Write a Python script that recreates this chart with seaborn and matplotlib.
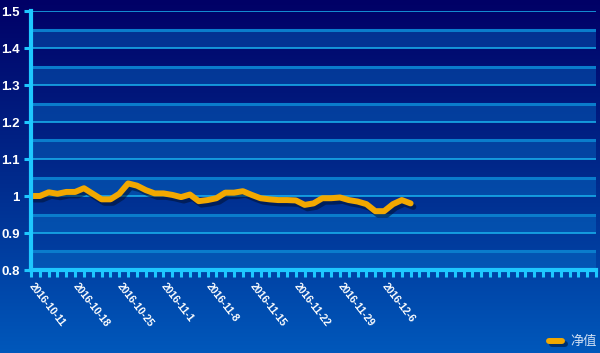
import numpy as np
import pandas as pd
import matplotlib
matplotlib.use("Agg")
import matplotlib.pyplot as plt
import matplotlib.patheffects as pe
from matplotlib.colors import LinearSegmentedColormap
from matplotlib.lines import Line2D
import seaborn as sns

# ---- data ----
dates = [d.strftime("%Y-%m-%d") for d in pd.bdate_range("2016-10-11", "2016-12-09")]
nav = [1.000, 1.000, 1.010, 1.006, 1.011, 1.011, 1.021, 1.006, 0.991, 0.991,
       1.006, 1.034, 1.028, 1.016, 1.007, 1.007, 1.003, 0.997, 1.004, 0.986,
       0.989, 0.994, 1.009, 1.009, 1.013, 1.003, 0.994, 0.991, 0.989, 0.989,
       0.988, 0.976, 0.980, 0.994, 0.994, 0.996, 0.989, 0.985, 0.978, 0.959,
       0.959, 0.978, 0.989, 0.980]
tick_labels = ["2016-10-11", "2016-10-18", "2016-10-25", "2016-11-1", "2016-11-8",
               "2016-11-15", "2016-11-22", "2016-11-29", "2016-12-6"]
tick_dates = ["2016-10-11", "2016-10-18", "2016-10-25", "2016-11-01", "2016-11-08",
              "2016-11-15", "2016-11-22", "2016-11-29", "2016-12-06"]
y_ticks = [0.8, 0.9, 1.0, 1.1, 1.2, 1.3, 1.4, 1.5]
y_labels = ["0.8", "0.9", "1", "1.1", "1.2", "1.3", "1.4", "1.5"]
series_name = "净值"

df = pd.DataFrame({"idx": range(len(nav)), "date": dates, "nav": nav})

sns.set_theme(style="white")
plt.rcParams["font.family"] = ["Liberation Sans", "DejaVu Sans"]

fig = plt.figure(figsize=(6.0, 3.53), dpi=100)

# background gradient
bg = fig.add_axes([0, 0, 1, 1], zorder=0)
cmap = LinearSegmentedColormap.from_list("bg", ["#000066", "#002a8c", "#0058bb"])
grad = np.linspace(0, 1, 256).reshape(-1, 1)
bg.imshow(grad, aspect="auto", cmap=cmap, extent=[0, 1, 0, 1], origin="upper")
bg.set_axis_off()

ax = fig.add_axes([31 / 600, 1 - 270 / 353, (596 - 31) / 600, (270 - 11) / 353], zorder=1)
ax.patch.set_alpha(0)

n_cat = 65
ax.set_xlim(0, n_cat - 1)
ax.set_ylim(0.8, 1.5)

# bands and grid
for k in np.arange(0.8, 1.45, 0.1):
    ax.axhspan(k, k + 0.05, color="#0a78d0", alpha=0.38, lw=0, zorder=0.5)
    ax.axhline(k + 0.05, color="#0a7ccc", lw=2.2, zorder=0.6)
for y in y_ticks[1:]:
    ax.axhline(y, color="#1ab4f0", lw=1.1, zorder=0.7)

sns.lineplot(data=df, x="idx", y="nav", ax=ax, color="#f2a800", lw=4.3, zorder=3,
             path_effects=[pe.SimpleLineShadow(offset=(2, -2.5), shadow_color="#001030", alpha=0.55),
                           pe.Normal()])

for s in ["top", "right"]:
    ax.spines[s].set_visible(False)
for s in ["left", "bottom"]:
    ax.spines[s].set_visible(True)
    ax.spines[s].set_color("#1ec8ff")
    ax.spines[s].set_linewidth(3)
    ax.spines[s].set_zorder(4)

ax.set_yticks(y_ticks)
ax.set_yticklabels(y_labels, color="white", fontsize=9.5, fontweight="bold")
ax.tick_params(axis="y", direction="out", length=5, width=2.2, color="#1ec8ff", pad=3, left=True)

ax.set_xticks(range(n_cat), minor=True)
ax.set_xticks([dates.index(d) for d in tick_dates])
ax.set_xticklabels(tick_labels, rotation=-52, ha="left", va="center",
                   rotation_mode="anchor", color="white", fontsize=7.5, fontweight="bold")
ax.tick_params(axis="x", which="both", direction="out", length=5, width=2.2,
               color="#1ec8ff", bottom=True, pad=5)
ax.set_xlabel("")
ax.set_ylabel("")
ax.grid(False)

# legend
leg_line = Line2D([549 / 600, 562 / 600], [1 - 341 / 353] * 2, transform=fig.transFigure,
                  color="#f2a800", lw=4.3, solid_capstyle="round",
                  path_effects=[pe.SimpleLineShadow(offset=(2, -2.5), shadow_color="#001030", alpha=0.55),
                                pe.Normal()], zorder=5)
fig.add_artist(leg_line)
fig.text(570 / 600, 1 - 341 / 353, series_name, color="#d0e0f4", fontsize=9.5,
         family=["Noto Sans CJK SC", "DejaVu Sans"], va="center", ha="left", zorder=5)

fig.savefig("out.png", dpi=100)
